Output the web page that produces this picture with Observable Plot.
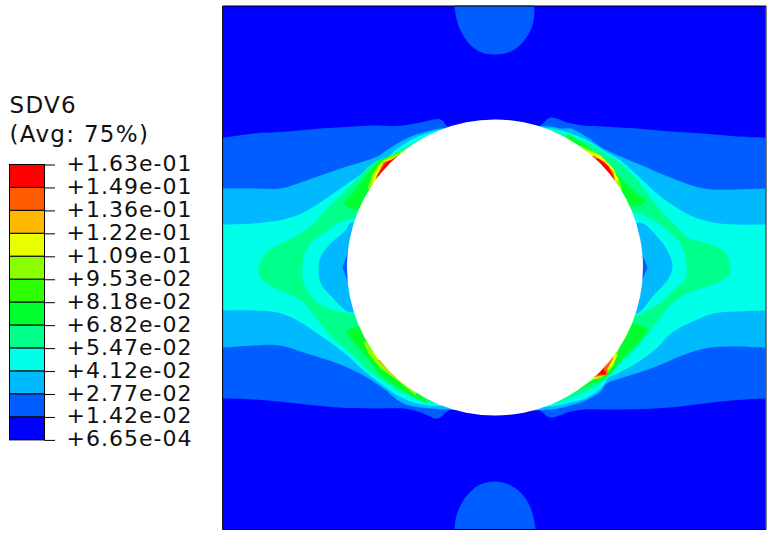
<!DOCTYPE html>
<html><head><meta charset="utf-8">
<script src="https://cdn.jsdelivr.net/npm/d3@7"></script>
<script src="https://cdn.jsdelivr.net/npm/@observablehq/plot@0.6"></script>
<style>html,body{margin:0;padding:0;background:#fff}svg{display:block}
.ticks text{letter-spacing:1px}.head text{letter-spacing:1.3px}</style>
</head><body><div id="chart"></div>
<script>
const title = ["SDV6", "(Avg: 75%)"];
const tickLabels = ["+1.63e-01","+1.49e-01","+1.36e-01","+1.22e-01","+1.09e-01","+9.53e-02","+8.18e-02","+6.82e-02","+5.47e-02","+4.12e-02","+2.77e-02","+1.42e-02","+6.65e-04"];
const bandColors = ["#ff0000","#ff5d00","#ffb900","#e8ff00","#8bff00","#2eff00","#00ff2e","#00ff8b","#00ffe8","#00b9ff","#005dff","#0000ff"];
const plate = [[222.5,5.5],[765.5,5.5],[765.5,529],[222.5,529]];

const capTop = [[454,-20],[454,5],[456,18],[460,30],[466,40],[474,48],[484,53],[494,54],[504,53],[514,49],[522,42],[529,32],[533,20],[534,5],[534,-20]];
const capBottom = [[454,555],[454,529],[456,515],[461,503],[469,492],[480,484],[494,481],[508,484],[519,491],[527,501],[532,513],[535,529],[535,555]];
const band2 = [[213,137],[223,137],[253,133],[287,131],[320,128],[353,126],[370,125],[397,125.5],[420,122],[440,119],[450,128],[535,128],[550,117],[567,122],[583,125],[603,126],[637,128],[670,131],[703,133],[737,136],[765,137],[790,137],
  [790,398],[765,398],[720,401],[670,407],[620,409],[583,409],[567,412],[550,417],[535,408],[452,408],[437,418],[423,413],[407,408.5],[373,408],[337,407],[287,402],[253,399],[223,398],[213,398]];
const band3 = [[213,188],[223,188],[253,188],[280,188],[300,182],[320,175],[343,167],[363,161],[379,155],[383,152],[397,143],[413,135],[430,130],[440,128],[550,126],[560,128],[570,128],[587,137],[603,148],[637,163],[670,177],[703,188],[737,189],[765,188],[790,188],
  [790,347],[765,347],[737,346],[710,347],[687,353],[653,367],[620,378],[606,383],[600,391],[585,400],[570,405],[550,409],[430,408],[403,403],[383,388],[363,375],[337,363],[303,352],[280,345],[253,345],[223,347],[213,347]];
const band4 = [[213,224],[223,224],[253,223],[287,218],[307,210],[327,197],[347,183],[363,172],[380,160],[385,158],[397,148],[413,138],[430,132],[450,128],[550,128],[570,133],[587,140],[603,150],[620,160],[637,175],[653,190],[670,203],[690,215],[713,222],[737,224],[765,224],[790,224],
  [790,310],[765,310],[737,311],[713,313],[690,322],[670,333],[657,347],[637,362],[617,373],[608,377],[603,385],[587,397],[570,402],[550,406],[430,405],[413,402],[397,395],[380,383],[363,370],[347,355],[330,342],[317,333],[297,320],[277,312],[253,310],[223,310],[213,310]];
const band5Left = [[258,268],[262,257],[268,250],[283,242],[300,233],[313,223],[327,207],[343,192],[357,178],[367,167],[377,160],[387,157],[400,150],[413,143],[430,135],[445,130],[450,180],[370,218],
  [352,218],[337,223],[323,233],[310,243],[303,257],[302,267],[303,282],[310,295],[317,302],[333,310],[353,315],[370,350],[450,395],[430,402],[420,397],[403,393],[387,383],[370,372],[353,355],[337,342],[323,327],[310,310],[300,300],[287,293],[270,285],[260,278]];
const band5Right = [[730,268],[728,257],[720,248],[703,242],[687,237],[677,227],[663,213],[650,197],[637,180],[620,163],[603,152],[587,142],[570,137],[550,130],[540,180],[620,212],
  [633,212],[650,218],[667,230],[680,243],[685,257],[686,267],[685,278],[673,290],[660,302],[643,312],[633,317],[610,350],[540,395],[555,402],[570,397],[587,390],[603,380],[608,372],[617,365],[633,350],[650,330],[660,317],[670,305],[683,295],[700,288],[717,282],[728,275],[731,265]];
const pocketLeft = [[352,222],[343,232],[330,243],[320,257],[318,268],[320,282],[330,295],[352,312],[380,268]];
const pocketRight = [[638,222],[660,240],[670,257],[672,267],[668,278],[653,295],[635,313],[610,268]];
const notchLeft = [[342,267],[348,250],[360,267],[348,284]];
const notchRight = [[647,267],[640,250],[630,267],[640,284]];

const band6 = [
  [[343,203],[352,193],[362,180],[370,170],[378,160],[385,157],[403,150],[420,141],[436,134],[400,190],[360,210],[350,208]],
  [[345,330],[353,342],[367,358],[380,375],[397,387],[413,397],[427,403],[400,340],[360,325]],
  [[567,133],[583,143],[600,156],[612,168],[625,183],[635,192],[645,200],[640,206],[630,205],[622,200],[600,190],[560,150]],
  [[648,328],[640,340],[630,350],[620,360],[612,372],[607,376],[600,380],[583,387],[563,398],[550,402],[590,340],[632,322]]
];
const band7 = [
  [[367,188],[372,173],[377,165],[382,160],[392,155],[403,150],[415,142],[420,170],[380,195]],
  [[363,342],[368,353],[380,368],[397,380],[407,388],[415,395],[425,365],[380,335]],
  [[580,145],[597,153],[610,167],[618,177],[622,190],[600,190],[570,155]],
  [[618,350],[613,365],[607,372],[600,378],[593,379],[570,391],[560,395],[590,345],[610,340]]
];
const band8 = [
  [[371,183],[375,172],[380,165],[384,160],[396,156],[410,146],[420,170],[385,190]],
  [[372,352],[380,363],[393,375],[402,383],[408,388],[420,365],[385,345]],
  [[587,150],[600,155],[613,168],[618,180],[600,190],[575,160]],
  [[617,355],[612,365],[607,370],[597,377],[583,383],[575,388],[590,350],[605,345]]
];
const band9 = [
  [[375,178],[380,168],[383,162],[393,158],[410,150],[395,185]],
  [[378,360],[388,370],[395,377],[405,360],[385,350]],
  [[593,155],[605,162],[613,172],[615,183],[600,190],[585,160]],
  [[613,357],[607,368],[607,374],[597,376],[590,378],[600,350]]
];
const band10 = [
  [[377,175],[382,167],[385,162],[392,159],[405,150],[395,190]],
  [[381,362],[391,372],[405,365],[390,350]],
  [[598,158],[608,166],[613,177],[600,190],[590,160]],
  [[610,358],[603,368],[606,374],[598,374],[590,376],[600,350]]
];
// white strips round the plate: left, right, top, bottom
const masks = [[193,222.5,0,536],[765.5,772,0,536],[193,772,0,5.5],[193,772,529,536]];

const color = i => bandColors[i];
const poly = (pts, fill, curve = "catmull-rom-closed") => Plot.line(pts, {x: d => d[0], y: d => d[1], fill, stroke: "none", curve});
const polys = (list, fill) => list.map(p => poly(p, fill, "linear-closed"));

const legendLeft = 9.5, legendRight = 44.5, legendTop = 164.5, step = 22.95;
const chart = Plot.plot({
  width: 772, height: 536,
  margin: 0,
  style: {background: "#fff", fontFamily: "'DejaVu Sans', sans-serif"},
  x: {domain: [0, 772], range: [0, 772], axis: null},
  y: {domain: [0, 536], range: [0, 536], axis: null},
  marks: [
    poly(plate, color(11), "linear-closed"),
    poly(band2, color(10)),
    poly(capTop, color(10)),
    poly(capBottom, color(10)),
    poly(band3, color(9)),
    poly(band4, color(8)),
    poly(band5Left, color(7)),
    poly(band5Right, color(7)),
    poly(pocketLeft, color(9)),
    poly(pocketRight, color(9)),
    poly(notchLeft, color(10), "linear-closed"),
    poly(notchRight, color(10), "linear-closed"),
    ...polys(band6, color(6)),
    ...polys(band7, color(4)),
    ...polys(band8, color(3)),
    ...polys(band9, color(1)),
    ...polys(band10, color(0)),
    Plot.dot([[494.5, 267]], {x: d => d[0], y: d => d[1], r: 148, fill: "#fff", stroke: "none"}),
    Plot.rect(masks, {x1: d => d[0], x2: d => d[1], y1: d => d[2], y2: d => d[3], fill: "#fff", stroke: "none"}),
    Plot.line(plate, {x: d => d[0], y: d => d[1], stroke: "#000", strokeWidth: 1, curve: "linear-closed"}),
    Plot.rect(bandColors, {
      x1: () => legendLeft, x2: () => legendRight,
      y1: (d, i) => legendTop + i * step, y2: (d, i) => legendTop + (i + 1) * step,
      fill: d => d, stroke: "#000", strokeWidth: 1
    }),
    Plot.ruleY(tickLabels, {
      y: (d, i) => legendTop + i * step,
      x1: () => legendRight, x2: () => 55, stroke: "#000", strokeWidth: 1
    }),
    Plot.text(tickLabels, {
      x: () => 66, y: (d, i) => legendTop - 1 + i * step,
      text: d => d, textAnchor: "start", fontSize: 22, fill: "#111", lineAnchor: "middle",
      fontFamily: "'DejaVu Sans', sans-serif", className: "ticks"
    }),
    Plot.text(title, {
      x: () => 9, y: (d, i) => 105 + i * 29,
      text: d => d, textAnchor: "start", fontSize: 23, fill: "#111", lineAnchor: "middle",
      fontFamily: "'DejaVu Sans', sans-serif", className: "head"
    })
  ]
});
document.getElementById("chart").append(chart);
</script></body></html>
